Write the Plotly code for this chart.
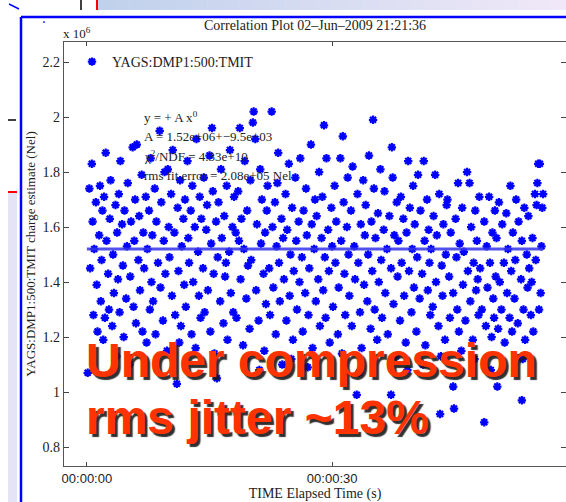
import plotly.graph_objects as go

# Elapsed time (s) and TMIT charge estimate (units of 1e6 Nel)
time_s = [
    0.1, 0.3, 0.4, 0.6, 0.7, 0.8, 0.9, 1.1, 1.2, 1.3, 1.5, 1.6, 1.7, 1.8, 1.9, 2.0,
    2.1, 2.2, 2.3, 2.4, 2.6, 2.7, 2.8, 2.9, 3.1, 3.2, 3.3, 3.5, 3.6, 3.7, 3.8, 3.9,
    4.0, 4.1, 4.3, 4.4, 4.5, 4.6, 4.8, 4.9, 5.0, 5.2, 5.3, 5.4, 5.6, 5.7, 5.8, 5.9,
    6.0, 6.1, 6.3, 6.4, 6.5, 6.7, 6.8, 6.9, 7.0, 7.2, 7.3, 7.4, 7.6, 7.7, 7.8, 7.9,
    8.0, 8.1, 8.3, 8.4, 8.5, 8.7, 8.9, 9.0, 9.1, 9.3, 9.4, 9.5, 9.6, 9.8, 9.9, 10.0,
    10.1, 10.3, 10.4, 10.5, 10.7, 10.8, 11.0, 11.1, 11.2, 11.4, 11.5, 11.6, 11.8, 11.9, 12.0, 11.3,
    12.1, 12.3, 12.4, 12.5, 12.7, 12.8, 12.9, 13.0, 13.2, 13.3, 13.4, 13.6, 13.7, 13.8, 13.9, 14.0,
    14.2, 14.3, 14.4, 14.6, 14.7, 14.8, 15.0, 15.1, 15.2, 15.4, 15.5, 15.6, 15.8, 15.9, 16.0, 15.3,
    16.1, 16.3, 16.4, 16.5, 16.7, 16.8, 16.9, 17.1, 17.2, 17.4, 17.5, 17.6, 17.8, 17.9, 18.0, 17.0,
    18.2, 18.3, 18.5, 18.7, 18.8, 18.9, 19.1, 19.2, 19.3, 19.5, 19.6, 19.7, 19.9, 20.0, 19.4, 18.6,
    20.1, 20.3, 20.4, 20.6, 20.7, 20.8, 21.0, 21.2, 21.3, 21.4, 21.6, 21.7, 21.8, 21.9, 22.0, 21.1,
    22.1, 22.3, 22.4, 22.6, 22.7, 22.8, 23.0, 23.1, 23.2, 23.4, 23.5, 23.6, 23.8, 23.9, 24.0, 23.3,
    24.1, 24.3, 24.4, 24.5, 24.7, 24.8, 24.9, 25.1, 25.2, 25.3, 25.5, 25.6, 25.7, 25.9, 26.0, 25.0,
    26.1, 26.3, 26.4, 26.5, 26.7, 26.8, 26.9, 27.1, 27.2, 27.4, 27.5, 27.6, 27.8, 27.9, 28.0, 27.0,
    28.1, 28.3, 28.4, 28.5, 28.7, 28.8, 28.9, 29.1, 29.2, 29.3, 29.5, 29.6, 29.7, 29.9, 30.0, 29.0,
    30.1, 30.3, 30.4, 30.5, 30.7, 30.8, 31.0, 31.1, 31.2, 31.4, 31.5, 31.6, 31.8, 31.9, 32.0, 31.3,
    32.1, 32.3, 32.4, 32.5, 32.7, 32.8, 33.0, 33.1, 33.2, 33.4, 33.5, 33.6, 33.8, 33.9, 34.0, 33.3,
    34.1, 34.3, 34.4, 34.5, 34.7, 34.8, 34.9, 35.1, 35.2, 35.3, 35.5, 35.6, 35.7, 35.9, 36.0, 35.0,
    36.1, 36.3, 36.4, 36.5, 36.7, 36.8, 37.0, 37.2, 37.2, 37.4, 37.5, 37.6, 37.8, 37.9, 38.0, 37.3,
    38.1, 38.3, 38.4, 38.5, 38.7, 38.8, 39.0, 39.1, 39.3, 39.4, 39.5, 39.7, 39.8, 39.9, 40.0, 39.2,
    40.1, 40.3, 40.4, 40.5, 40.7, 40.8, 41.0, 41.2, 41.3, 41.4, 41.6, 41.7, 41.8, 42.0, 41.1, 41.9,
    42.1, 42.3, 42.4, 42.6, 42.7, 42.8, 43.0, 43.1, 43.2, 43.4, 43.5, 43.6, 43.8, 43.9, 44.0, 43.3,
    44.1, 44.3, 44.4, 44.5, 44.8, 44.8, 44.9, 45.1, 45.2, 45.4, 45.5, 45.6, 45.8, 45.9, 46.0, 45.3,
    46.1, 46.3, 46.5, 46.6, 46.8, 46.9, 47.0, 47.2, 47.3, 47.5, 47.6, 47.7, 47.9, 48.0, 47.4, 47.8,
    48.1, 48.3, 48.6, 48.6, 48.8, 48.9, 49.0, 49.2, 49.3, 49.5, 49.6, 49.7, 49.9, 50.0, 49.4, 49.8,
    50.1, 50.3, 50.4, 50.5, 50.7, 50.8, 51.0, 51.1, 51.3, 51.4, 51.5, 51.7, 51.8, 51.9, 52.0, 50.2,
    52.1, 52.3, 52.4, 52.5, 52.7, 52.8, 53.2, 53.1, 53.2, 53.4, 53.5, 53.6, 53.8, 53.9, 54.0, 53.3,
    54.1, 54.3, 54.5, 54.8, 55.0, 55.1, 55.2, 55.4, 55.5, 55.7, 55.8, 54.6, 54.9, 55.3, 55.6, 54.4,
]

charge_1e6 = [
    1.07, 1.74, 1.45, 1.83, 1.62, 1.28, 1.52, 1.69, 1.39, 1.22, 1.57, 1.75, 1.33, 1.48, 1.66, 1.19,
    1.71, 1.27, 1.87, 1.55, 1.43, 1.30, 1.63, 1.77, 1.24, 1.50, 1.36, 1.68, 1.13, 1.58, 1.41, 1.72,
    1.29, 1.84, 1.61, 1.46, 1.20, 1.66, 1.34, 1.53, 1.76, 1.10, 1.42, 1.62, 1.89, 1.31, 1.55, 1.70,
    1.25, 1.90, 1.48, 1.64, 1.37, 1.79, 1.22, 1.58, 1.45, 1.71, 1.18, 1.52, 1.66, 1.30, 1.85, 1.40,
    1.57, 1.33, 1.74, 1.21, 1.62, 1.47, 1.95, 1.38, 1.69, 1.26, 1.55, 1.80, 1.43, 1.15, 1.81, 1.60,
    1.49, 1.72, 1.35, 1.88, 1.58, 1.28, 1.03, 1.67, 1.44, 1.77, 1.24, 1.53, 1.63, 1.39, 1.70, 1.18,
    1.31, 1.84, 1.56, 1.47, 1.66, 1.21, 1.75, 1.40, 1.60, 1.16, 1.92, 1.51, 1.35, 1.71, 1.27, 1.63,
    1.45, 1.78, 1.29, 1.59, 1.68, 1.37, 1.86, 1.22, 1.54, 1.73, 1.43, 1.14, 1.62, 1.05, 1.49, 1.96,
    1.69, 1.33, 1.81, 1.56, 1.25, 1.64, 1.42, 1.75, 1.19, 1.51, 1.88, 1.36, 1.60, 1.29, 1.71, 1.47,
    1.58, 1.27, 1.73, 1.96, 1.41, 1.63, 1.17, 1.52, 1.84, 1.34, 1.66, 1.46, 1.23, 1.77, 1.12, 1.55,
    1.48, 1.98, 2.02, 1.92, 1.37, 1.61, 1.26, 1.81, 1.54, 1.70, 1.43, 1.15, 1.58, 1.32, 1.66, 1.08,
    1.75, 1.45, 1.28, 2.02, 1.60, 1.38, 1.69, 1.21, 1.53, 1.87, 1.47, 1.33, 1.63, 1.10, 1.56, 1.76,
    1.41, 1.72, 1.26, 1.59, 1.83, 1.35, 1.50, 1.67, 1.19, 1.44, 1.78, 1.55, 1.30, 1.62, 1.40, 1.12,
    1.85, 1.49, 1.22, 1.66, 1.36, 1.74, 1.57, 1.28, 1.45, 1.90, 1.61, 1.16, 1.52, 1.70, 1.33, 1.09,
    1.64, 1.41, 1.80, 1.24, 1.56, 1.71, 1.37, 1.49, 1.27, 1.85, 1.59, 1.44, 1.18, 1.67, 1.53, 1.97,
    1.31, 1.75, 1.47, 1.62, 1.21, 1.38, 1.85, 1.55, 1.14, 1.69, 1.43, 1.28, 1.60, 1.78, 1.50, 1.93,
    1.35, 1.66, 1.24, 1.82, 1.53, 1.41, 0.99, 1.72, 1.47, 1.29, 1.61, 1.16, 1.77, 1.39, 1.57, 1.07,
    1.68, 1.33, 1.50, 1.86, 1.23, 1.62, 1.44, 1.74, 1.30, 1.56, 1.19, 1.65, 1.40, 1.81, 1.48, 1.99,
    1.27, 1.59, 1.73, 1.36, 1.52, 1.21, 1.64, 0.99, 1.45, 1.78, 1.32, 1.57, 1.13, 1.69, 1.42, 1.89,
    1.55, 1.26, 1.71, 1.47, 1.63, 1.35, 1.18, 1.58, 1.84, 1.44, 1.67, 1.29, 1.52, 1.75, 1.38, 1.08,
    1.61, 1.22, 1.49, 1.79, 1.34, 1.66, 1.43, 1.84, 1.55, 1.17, 1.70, 1.37, 1.59, 1.28, 1.10, 1.47,
    1.52, 1.31, 1.64, 1.79, 1.40, 1.57, 1.24, 1.72, 0.92, 1.46, 1.35, 1.61, 1.19, 1.50, 1.68, 1.13,
    1.70, 1.42, 1.27, 1.58, 1.02, 1.36, 0.94, 1.63, 1.49, 1.76, 1.22, 1.54, 1.15, 1.67, 1.39, 1.30,
    1.51, 1.26, 1.80, 1.44, 1.76, 1.33, 1.60, 1.19, 1.47, 1.66, 1.37, 1.55, 1.28, 1.71, 1.12, 1.41,
    1.45, 1.30, 0.89, 1.62, 1.24, 1.53, 1.38, 1.71, 1.47, 1.20, 1.58, 1.34, 1.66, 1.42, 1.08, 1.27,
    1.56, 1.23, 1.69, 1.40, 1.30, 1.61, 1.47, 1.18, 1.65, 1.36, 1.52, 1.27, 1.75, 1.44, 1.22, 1.02,
    1.58, 1.34, 1.48, 1.70, 1.25, 1.62, 0.97, 1.41, 1.55, 1.30, 1.67, 1.19, 1.50, 1.38, 1.64, 1.12,
    1.45, 1.28, 1.56, 1.72, 1.68, 1.76, 1.83, 1.83, 1.36, 1.67, 1.72, 1.22, 1.48, 1.30, 1.53, 1.40,
]

# Constant fit y = A x^0
fit_A = 1.52e6
fit_t = [0.0, 55.8]

x_tickvals = [0, 30]
x_ticktext = ["00:00:00", "00:00:30"]
y_tickvals = [0.8, 1.0, 1.2, 1.4, 1.6, 1.8, 2.0, 2.2]
y_ticktext = ["0.8", "1", "1.2", "1.4", "1.6", "1.8", "2", "2.2"]

fit_lines = [
    "y = + A x<sup>0</sup>",
    "A = 1.52e+06+\u22129.5e+03",
    "\u03c7<sup>2</sup>/NDF = 4.33e+10",
    "rms fit error = 2.08e+05 Nel",
]
overlay_lines = ["Under compression", "rms jitter ~13%"]

W, H = 566, 502
ML, MR, MT, MB = 64, 0, 42, 36
PW, PH = W - ML - MR, H - MT - MB


def px(xp):
    return (xp - ML) / PW


def py(yp):
    return (H - MB - yp) / PH


SERIF = "Liberation Serif, Times New Roman, serif"
SANS = "Liberation Sans, Arial, sans-serif"

fig = go.Figure()

fig.add_trace(go.Scatter(
    x=time_s, y=charge_1e6, mode="markers", name="YAGS:DMP1:500:TMIT",
    marker=dict(symbol="asterisk-open", size=7, color="#0000ff",
                line=dict(color="#0000ff", width=2.2)),
))
fig.add_trace(go.Scatter(
    x=fit_t, y=[fit_A / 1e6, fit_A / 1e6], mode="lines", showlegend=False,
    line=dict(color="rgba(50,50,235,0.85)", width=3),
))

shapes = []
# slide header bar with a soft blue-to-lilac gradient
n_slices = 30
x0, x1 = 98, W
c0, c1 = (192, 209, 236), (240, 232, 248)
for i in range(n_slices):
    f = i / (n_slices - 1)
    col = tuple(round(c0[k] + (c1[k] - c0[k]) * f) for k in range(3))
    shapes.append(dict(type="rect", xref="paper", yref="paper",
                       x0=px(x0 + (x1 - x0) * i / n_slices),
                       x1=px(x0 + (x1 - x0) * (i + 1) / n_slices + 0.5),
                       y0=py(10), y1=py(0), line=dict(width=0),
                       fillcolor="rgb(%d,%d,%d)" % col, layer="above"))
shapes += [
    dict(type="line", xref="paper", yref="paper", x0=px(81), x1=px(81), y0=py(0), y1=py(10),
         line=dict(color="black", width=1.5)),
    dict(type="line", xref="paper", yref="paper", x0=px(97), x1=px(97), y0=py(0), y1=py(10),
         line=dict(color="red", width=2)),
    dict(type="line", xref="paper", yref="paper", x0=px(9), x1=px(19), y0=py(4), y1=py(9),
         line=dict(color="#0000ff", width=1.5)),
    dict(type="rect", xref="paper", yref="paper", x0=px(8), x1=px(17), y0=py(H), y1=py(192),
         line=dict(width=0), fillcolor="rgb(228,228,246)"),
    dict(type="line", xref="paper", yref="paper", x0=px(8), x1=px(17), y0=py(192), y1=py(192),
         line=dict(color="red", width=2)),
    dict(type="line", xref="paper", yref="paper", x0=px(8), x1=px(16), y0=py(120), y1=py(120),
         line=dict(color="black", width=1.5)),
    # frame of the embedded plot
    dict(type="line", xref="paper", yref="paper", x0=px(21), x1=px(21), y0=py(17), y1=py(H + 5),
         line=dict(color="#0000ff", width=2.5)),
    dict(type="line", xref="paper", yref="paper", x0=px(21), x1=px(W + 5), y0=py(17), y1=py(17),
         line=dict(color="#0000ff", width=2.5)),
]

annotations = [
    dict(xref="paper", yref="paper", x=px(40), y=py(10), text="\u00b7", showarrow=False,
         font=dict(size=14, color="#0000ff")),
    dict(xref="paper", yref="paper", x=px(61), y=py(33), xanchor="left", yanchor="middle",
         text="x 10<sup>6</sup>", showarrow=False, font=dict(family=SERIF, size=13, color="#222")),
]
for i, line in enumerate(fit_lines):
    annotations.append(dict(xref="paper", yref="paper", x=px(142), y=py(117 + 19.5 * i),
                            xanchor="left", yanchor="middle", text=line, showarrow=False,
                            font=dict(family=SERIF, size=13, color="#222")))
for i, line in enumerate(overlay_lines):
    annotations.append(dict(xref="paper", yref="paper", x=px(84), y=py(360 + 57 * i),
                            xanchor="left", yanchor="middle", text="<b>%s</b>" % line,
                            showarrow=False,
                            font=dict(family=SANS, size=48, color="#ff3300",
                                      shadow="3px 3px 1px rgba(25,25,25,0.9)")))

fig.update_layout(
    width=W, height=H,
    margin=dict(l=ML, r=MR, t=MT, b=MB, autoexpand=False),
    paper_bgcolor="white", plot_bgcolor="white",
    title=dict(text="Correlation Plot 02\u2013Jun\u20132009 21:21:36", x=0.5, xref="paper",
               xanchor="center", y=1 - 25 / H, yanchor="middle",
               font=dict(family=SERIF, size=14, color="#222")),
    showlegend=True,
    legend=dict(x=px(72), y=py(62), xanchor="left", yanchor="middle",
                bgcolor="rgba(0,0,0,0)", borderwidth=0,
                font=dict(family=SERIF, size=14, color="#222")),
    xaxis=dict(range=[-2.8, 58.6], tickvals=x_tickvals, ticktext=x_ticktext,
               ticks="inside", ticklen=4, tickcolor="#444", showgrid=False, zeroline=False,
               showline=True, linecolor="#555", linewidth=1.2, mirror="ticks",
               tickfont=dict(family=SANS, size=13, color="#222"),
               title=dict(text="TIME Elapsed Time (s)", standoff=4,
                          font=dict(family=SERIF, size=14, color="#222"))),
    yaxis=dict(range=[0.731, 2.273], tickvals=y_tickvals, ticktext=y_ticktext,
               ticks="inside", ticklen=5, tickcolor="#444", showgrid=False, zeroline=False,
               showline=True, linecolor="#555", linewidth=1.2, mirror="ticks",
               tickfont=dict(family=SERIF, size=14, color="#222"),
               title=dict(text="YAGS:DMP1:500:TMIT charge estimate (Nel)", standoff=4,
                          font=dict(family=SERIF, size=13, color="#222"))),
    shapes=shapes,
    annotations=annotations,
)

fig.write_html("out.html")
